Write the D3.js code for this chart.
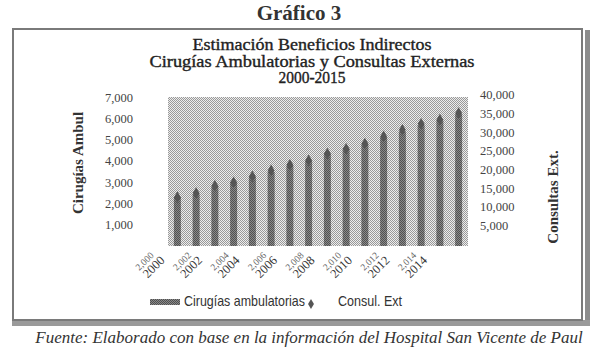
<!DOCTYPE html>
<html>
<head>
<meta charset="utf-8">
<script src="https://cdn.jsdelivr.net/npm/d3@7"></script>
<style>
  body { margin: 0; background: #fff; }
  svg { display: block; }
</style>
</head>
<body>
<div id="chart"></div>
<script>
// Datos
const years = ["2000", "2001", "2002", "2003", "2004", "2005", "2006", "2007",
               "2008", "2009", "2010", "2011", "2012", "2013", "2014", "2015"];
const cirugias = [2300, 2440, 2820, 3010, 3240, 3480, 3780, 3990,
                  4320, 4560, 4790, 5120, 5380, 5680, 5900, 6200];
const consultas = [13100, 14200, 16200, 17100, 18700, 20300, 21800, 23000,
                   24800, 26100, 27500, 29400, 31200, 32800, 33900, 35700];
const leftTicks = [1000, 2000, 3000, 4000, 5000, 6000, 7000];
const rightTicks = [5000, 10000, 15000, 20000, 25000, 30000, 35000, 40000];
const xLabels = ["2000", "2002", "2004", "2006", "2008", "2010", "2012", "2014"];

const width = 603, height = 353;
const plot = { left: 168, right: 468, top: 97, bottom: 246 };

const svg = d3.select("#chart")
  .append("svg")
  .attr("width", width)
  .attr("height", height)
  .style("font-family", "'Liberation Serif', 'Times New Roman', serif");

// tramas (aspecto de impresion)
const defs = svg.append("defs");
function dots(id, base, dot) {
  const p = defs.append("pattern").attr("id", id)
    .attr("width", 2).attr("height", 2).attr("patternUnits", "userSpaceOnUse");
  p.append("rect").attr("width", 2).attr("height", 2).attr("fill", base);
  p.append("rect").attr("width", 1).attr("height", 1).attr("fill", dot);
  p.append("rect").attr("x", 1).attr("y", 1).attr("width", 1).attr("height", 1).attr("fill", dot);
}
dots("bgDots", "#ededed", "#999");
dots("barDots", "#8a8a8a", "#505050");

// marco con sombra
svg.append("rect").attr("x", 585).attr("y", 30).attr("width", 5).attr("height", 296).attr("fill", "#8c8c8c");
svg.append("rect").attr("x", 12).attr("y", 320).attr("width", 578).attr("height", 6).attr("fill", "#9a9a9a");
svg.append("rect").attr("x", 13).attr("y", 29).attr("width", 569).attr("height", 291)
  .attr("fill", "#fff").attr("stroke", "#7a7a7a").attr("stroke-width", 2);

// titulos
svg.append("text").attr("x", 299).attr("y", 20).attr("text-anchor", "middle")
  .attr("font-size", 21).attr("font-weight", "bold").attr("fill", "#333")
  .text("Gráfico 3");

const titles = ["Estimación Beneficios Indirectos",
                "Cirugías Ambulatorias y Consultas Externas",
                "2000-2015"];
const titleLen = [239, 325, 67];
svg.append("g").selectAll("text")
  .data(titles)
  .join("text")
  .attr("x", 312)
  .attr("y", (d, i) => 50 + i * 16.6)
  .attr("text-anchor", "middle")
  .attr("font-size", 16)
  .attr("textLength", (d, i) => titleLen[i])
  .attr("lengthAdjust", "spacingAndGlyphs")
  .attr("fill", "#222")
  .attr("stroke", "#222")
  .attr("stroke-width", 0.35)
  .text(d => d);

// escalas
const x = d3.scaleBand().domain(years).range([plot.left, plot.right]);
const yL = d3.scaleLinear().domain([0, 7000]).range([plot.bottom, plot.top]);
const yR = d3.scaleLinear().domain([0, 40000]).range([plot.bottom, plot.top]);

svg.append("rect")
  .attr("x", plot.left).attr("y", plot.top)
  .attr("width", plot.right - plot.left).attr("height", plot.bottom - plot.top)
  .attr("fill", "url(#bgDots)");

// ejes
const axL = svg.append("g")
  .attr("transform", `translate(${plot.left},0)`)
  .call(d3.axisLeft(yL).tickValues(leftTicks).tickFormat(d3.format(",")).tickSize(0).tickPadding(35));
const axR = svg.append("g")
  .attr("transform", `translate(${plot.right},0)`)
  .call(d3.axisRight(yR).tickValues(rightTicks).tickFormat(d3.format(",")).tickSize(0).tickPadding(12));
[axL, axR].forEach(ax => {
  ax.select(".domain").remove();
  ax.selectAll("text")
    .attr("font-family", "'Liberation Serif', serif")
    .attr("font-size", 12.5)
    .attr("fill", "#444");
});
axR.selectAll("text").attr("dy", "0.15em");

// barras
const bw = 7;
svg.append("g").selectAll("rect")
  .data(years)
  .join("rect")
  .attr("x", (d) => x(d) + (x.bandwidth() - bw) / 2)
  .attr("y", (d, i) => yL(cirugias[i]))
  .attr("width", bw)
  .attr("height", (d, i) => yL(0) - yL(cirugias[i]))
  .attr("fill", "url(#barDots)");

// rombos
const diamond = d3.symbol().type(d3.symbolDiamond).size(40);
svg.append("g").selectAll("path")
  .data(years)
  .join("path")
  .attr("transform", (d, i) => `translate(${x(d) + x.bandwidth() / 2},${yR(consultas[i])})`)
  .attr("d", diamond)
  .attr("fill", "#555");

// etiquetas del eje x (doble, como en el original)
const xl = svg.append("g").selectAll("g")
  .data(xLabels)
  .join("g")
  .attr("transform", d => `translate(${x(d) + x.bandwidth() / 2 - 12},261)`);
xl.append("text")
  .attr("transform", "translate(-11,-5) rotate(-45)")
  .attr("text-anchor", "end")
  .attr("font-size", 9.5)
  .attr("fill", "#666")
  .text(d => d3.format(",")(+d));
xl.append("text")
  .attr("transform", "rotate(-45)")
  .attr("text-anchor", "end")
  .attr("font-size", 12.5)
  .attr("fill", "#333")
  .text(d => d);

// titulos de ejes
svg.append("text")
  .attr("transform", "translate(83,163) rotate(-90)")
  .attr("text-anchor", "middle")
  .attr("font-size", 15).attr("font-weight", "bold").attr("fill", "#333")
  .text("Cirugías Ambul");
svg.append("text")
  .attr("transform", "translate(558,197) rotate(-90)")
  .attr("text-anchor", "middle")
  .attr("font-size", 15).attr("font-weight", "bold").attr("fill", "#333")
  .text("Consultas Ext.");

// leyenda
const lg = svg.append("g").style("font-family", "'Liberation Sans', Arial, sans-serif");
lg.append("rect").attr("x", 150).attr("y", 299).attr("width", 30).attr("height", 6).attr("fill", "url(#barDots)");
lg.append("text").attr("x", 184).attr("y", 306).attr("font-size", 14.5).attr("fill", "#333")
  .attr("textLength", 121).attr("lengthAdjust", "spacingAndGlyphs")
  .text("Cirugías ambulatorias");
lg.append("path").attr("transform", "translate(311,304)")
  .attr("d", d3.symbol().type(d3.symbolDiamond).size(30)).attr("fill", "#555");
lg.append("text").attr("x", 338).attr("y", 306).attr("font-size", 14.5).attr("fill", "#333")
  .attr("textLength", 64).attr("lengthAdjust", "spacingAndGlyphs")
  .text("Consul. Ext");

// fuente
svg.append("text")
  .attr("x", 309).attr("y", 343)
  .attr("text-anchor", "middle")
  .attr("font-size", 17).attr("font-style", "italic").attr("fill", "#333")
  .text("Fuente: Elaborado con base en la información del Hospital San Vicente de Paul");
</script>
</body>
</html>
